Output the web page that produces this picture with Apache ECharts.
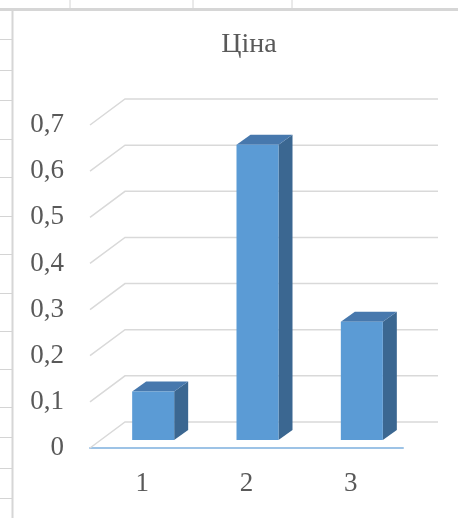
<!DOCTYPE html>
<html>
<head>
<meta charset="utf-8">
<script src="https://cdn.jsdelivr.net/npm/echarts@6/dist/echarts.min.js"></script>
<style>
  html, body { margin: 0; padding: 0; background: #fff; }
  #main { width: 458px; height: 518px; }
</style>
</head>
<body>
<div id="main"></div>
<script>
// дані
var categories = ['1', '2', '3'];
var prices = [0.105, 0.64, 0.256];
var yTicks = [0, 0.1, 0.2, 0.3, 0.4, 0.5, 0.6, 0.7];

// псевдо-3D зсуви (пікселі)
var WALL_DX = 35, WALL_DY = -26;   // задня стінка
var BAR_DX = 11, BAR_DY = -8;      // положення стовпця в глибину
var DEPTH_DX = 14, DEPTH_DY = -10; // товщина стовпця
var BAR_HALF = 21;

var textColor = '#595959';
var serif = '"Liberation Serif", "DejaVu Serif", serif';

// сітка аркуша Excel навколо діаграми
var sheet = [];
[70, 193, 292].forEach(function (x) {
  sheet.push({ type: 'line', shape: { x1: x, y1: 0, x2: x, y2: 9 }, style: { stroke: '#d4d4d4', lineWidth: 1 } });
});
sheet.push({ type: 'line', shape: { x1: 0, y1: 9.5, x2: 458, y2: 9.5 }, style: { stroke: '#d6d6d6', lineWidth: 3 } });
sheet.push({ type: 'line', shape: { x1: 12.5, y1: 9, x2: 12.5, y2: 518 }, style: { stroke: '#d6d6d6', lineWidth: 2 } });
[39, 70, 100, 139, 177, 216, 254, 293, 331, 369, 407, 437, 468, 498].forEach(function (y) {
  sheet.push({ type: 'line', shape: { x1: 0, y1: y + 0.5, x2: 12, y2: y + 0.5 }, style: { stroke: '#d4d4d4', lineWidth: 1 } });
});

var chart = echarts.init(document.getElementById('main'));

var option = {
  animation: false,
  title: {
    text: 'Ціна',
    left: 244,
    top: 26,
    textAlign: 'center',
    textStyle: { fontFamily: serif, fontSize: 28, fontWeight: 'normal', color: textColor }
  },
  graphic: sheet,
  grid: { left: 90, top: 125, width: 313, height: 323 },
  xAxis: {
    type: 'category',
    data: categories,
    axisLine: { lineStyle: { color: '#9dc3e6', width: 2 } },
    axisTick: { show: false },
    axisLabel: { margin: 22, fontFamily: serif, fontSize: 27, color: textColor }
  },
  yAxis: {
    type: 'value',
    min: 0,
    max: 0.7,
    interval: 0.1,
    axisLine: { show: false },
    axisTick: { show: false },
    splitLine: { show: false },
    axisLabel: {
      margin: 26,
      fontFamily: serif,
      fontSize: 27,
      color: textColor,
      formatter: function (v) {
        return v === 0 ? '0' : v.toFixed(1).replace('.', ',');
      }
    }
  },
  series: [
    {
      // лінії задньої стінки та підлоги
      type: 'custom',
      z: 1,
      silent: true,
      clip: false,
      data: yTicks.map(function (t) { return [0, t]; }),
      renderItem: function (params, api) {
        var cs = params.coordSys;
        var y = api.coord([0, api.value(1)])[1];
        var x0 = cs.x, x1 = cs.x + cs.width;
        return {
          type: 'polyline',
          shape: { points: [[x0, y], [x0 + WALL_DX, y + WALL_DY], [x1 + WALL_DX, y + WALL_DY]] },
          style: { stroke: '#d9d9d9', lineWidth: 1.5, fill: null }
        };
      }
    },
    {
      name: 'Ціна',
      type: 'custom',
      z: 3,
      clip: false,
      data: prices.map(function (v, i) { return [i, v]; }),
      renderItem: function (params, api) {
        var top = api.coord([api.value(0), api.value(1)]);
        var base = api.coord([api.value(0), 0]);
        var xl = top[0] - BAR_HALF + BAR_DX;
        var xr = top[0] + BAR_HALF + BAR_DX;
        var yt = top[1] + BAR_DY;
        var yb = base[1] + BAR_DY;
        return {
          type: 'group',
          children: [
            {
              type: 'polygon',
              shape: { points: [[xr, yt], [xr + DEPTH_DX, yt + DEPTH_DY], [xr + DEPTH_DX, yb + DEPTH_DY], [xr, yb]] },
              style: { fill: '#3b6791' }
            },
            {
              type: 'polygon',
              shape: { points: [[xl, yt], [xl + DEPTH_DX, yt + DEPTH_DY], [xr + DEPTH_DX, yt + DEPTH_DY], [xr, yt]] },
              style: { fill: '#4778ad' }
            },
            {
              type: 'rect',
              shape: { x: xl, y: yt, width: xr - xl, height: yb - yt },
              style: { fill: '#5b9bd5' }
            }
          ]
        };
      }
    }
  ]
};

chart.setOption(option);
</script>
</body>
</html>
